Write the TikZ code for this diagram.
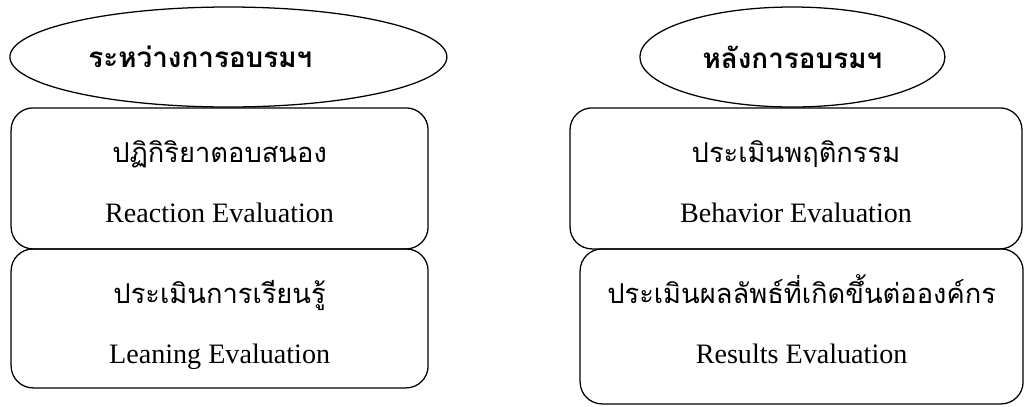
\documentclass[tikz,border=0pt]{standalone}
\usepackage{fontspec}
\setmainfont{Liberation Serif}
\newfontfamily\thaifont[Script=Thai]{Loma}
\usetikzlibrary{shapes.geometric,positioning}

\begin{document}
\begin{tikzpicture}[
  x=1cm,y=1cm,
  phase/.style={draw, ellipse, line width=0.9pt, inner sep=0pt, font=\thaifont\bfseries\fontsize{19.8}{22}\selectfont},
  box/.style={draw, rounded corners=0.55cm, line width=0.9pt, inner sep=0pt},
  thline/.style={anchor=base, inner sep=0pt, font=\thaifont\fontsize{19.4}{22}\selectfont},
  enline/.style={anchor=base, inner sep=0pt, font=\fontsize{20}{22}\selectfont}
]
\useasboundingbox (0,0) rectangle (25.6,-10.15);
% two phases (left title sits off centre)
\node[phase, minimum width=10.925cm, minimum height=2.5cm] (during) at (5.71,-1.425) {ระหว่างการอบรมฯ\hspace*{1.4cm}};
\node[phase, minimum width=7.625cm, minimum height=2.5cm] (after) at (19.81,-1.425) {หลังการอบรมฯ};
% evaluation levels
\node[box, minimum width=10.425cm, minimum height=3.525cm] (reaction) at (5.49,-4.46) {};
\node[box, minimum width=10.425cm, minimum height=3.475cm] (learning) at (5.49,-7.96) {};
\node[box, minimum width=11.3cm, minimum height=3.525cm] (behavior) at (19.9,-4.46) {};
\node[box, minimum width=11.075cm, minimum height=3.875cm] (results) at (20.04,-8.16) {};
\node[thline] (reactionTh) at ([yshift=-1.375cm]reaction.north) {ปฏิกิริยาตอบสนอง};
\node[enline] (reactionEn) at ([yshift=-2.875cm]reaction.north) {Reaction Evaluation};
\node[thline] (learningTh) at ([yshift=-1.375cm]learning.north) {ประเมินการเรียนรู้};
\node[enline] (learningEn) at ([yshift=-2.875cm]learning.north) {Leaning Evaluation};
\node[thline] (behaviorTh) at ([yshift=-1.375cm]behavior.north) {ประเมินพฤติกรรม};
\node[enline] (behaviorEn) at ([yshift=-2.875cm]behavior.north) {Behavior Evaluation};
\node[thline] (resultsTh) at ([yshift=-1.375cm]results.north) {ประเมินผลลัพธ์ที่เกิดขึ้นต่อองค์กร};
\node[enline] (resultsEn) at ([yshift=-2.875cm]results.north) {Results Evaluation};
\end{tikzpicture}
\end{document}
